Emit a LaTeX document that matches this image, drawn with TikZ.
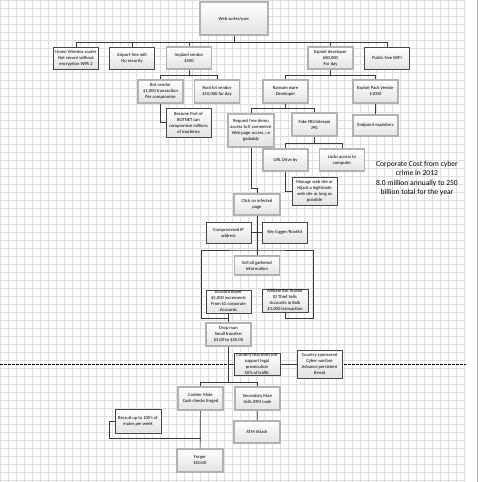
\documentclass[tikz,border=0pt]{standalone}
\usepackage{fontspec}
\setmainfont{Carlito}
\usetikzlibrary{positioning}

\begin{document}
\begin{tikzpicture}[x=1pt, y=-1pt,
    box/.style={rectangle, top color=white, bottom color=gray!22, align=center, inner sep=0.5pt, minimum width=45pt, minimum height=22pt, font=\fontsize{4.6}{6}\selectfont},
    thin box/.style={box, draw=gray!55!black, line width=0.5pt},
    thick box/.style={box, draw=gray!60, line width=1.5pt},
    link/.style={draw=gray!45!black, line width=0.7pt},
    gridline/.style={gray!25, line width=0.3pt}
]
        \useasboundingbox (0,0) rectangle (480,482);

        % grid paper
        \foreach \gx in {0,8,...,464} \draw[gridline] (\gx,0) -- (\gx,482);
        \foreach \gy in {0,8,...,480} \draw[gridline] (0,\gy) -- (466,\gy);
        \draw[gray!60, line width=0.8pt] (477.5,0) -- (477.5,482);
        \draw[black, line width=0.6pt, dash pattern=on 2.5pt off 1.5pt] (0,364) -- (466,364);

        % top
        \node[thick box, minimum width=68pt, minimum height=33pt] (web) at (234,18.5) {Web surfer/user};
        \node[thin box] (home) at (76,58) {Home Wireless router\\Not secure without\\encryption WPA 2};
        \node[thin box] (airport) at (132,58) {Airport free wifi\\No security};
        \node[thick box] (implant) at (189,58) {Implant vendor\\\$500};
        \node[thick box] (exploitdev) at (330.5,58) {Exploit developer\\\$80,000\\For day};
        \node[thin box] (public) at (387,58) {Public free WIFI};

        % vendors
        \node[thick box, minimum height=23pt] (botvendor) at (160.5,91.5) {Bot vendor\\\$1,000 transaction\\Per compromise};
        \node[thick box, minimum height=23pt] (rootkit) at (217,91.5) {Root kit vendor\\\$10,000 for day};
        \node[thick box, minimum height=23pt] (ransom) at (285.5,91.5) {Ransom ware\\Developer};
        \node[thick box, minimum height=23pt] (packvendor) at (375.5,91.5) {Exploit Pack Vendor\\\$1000};
        \node[thin box, minimum height=29pt] (botnet) at (188.5,122.5) {Become Part of\\BOTNET can\\compromise millions\\of machines};
        \node[thick box, minimum height=21pt] (endpoint) at (375.5,125.5) {Endpoint exploiters};

        % ransom ware branch
        \node[thick box, minimum width=46pt, minimum height=33pt] (request) at (251,130.5) {Request free demo\\access to E commerce\\Web page access, i.e\\godaddy};
        \node[thick box, minimum height=23pt] (fakefbi) at (314.5,124.5) {Fake FBI/Interpol\\JPG};
        \node[thick box] (urldrive) at (285.5,160) {URL Drive by};
        \node[thick box] (locks) at (342,160) {Locks access to\\computer};
        \node[thin box, minimum height=28pt] (manage) at (314.5,191) {Manage web site or\\Hijack a legitimate\\web site as long as\\possible};
        \node[thick box, minimum width=46pt, minimum height=21pt] (click) at (257,204.5) {Click on infected\\page};

        \node[align=center, font=\fontsize{7.6}{9.2}\selectfont] (cost) at (417,178.5) {Corporate Cost from cyber\\crime in 2012\\8.0 million annually to 250\\billion total for the year};

        % gathered information
        \node[thin box, minimum height=21pt] (compip) at (228.5,232.5) {Compromised IP\\address};
        \node[thin box, minimum height=21pt] (keylogger) at (285,232.5) {Key logger/Rootkit};
        \node[thick box, minimum height=19pt] (sellinfo) at (257,265.5) {Sell all gathered\\Information};
        \node[thin box, minimum height=23pt] (accbuyer) at (228.5,301.5) {Account Buyer\\\$5,000 increments\\From LG corporate\\Accounts};
        \node[thin box, minimum width=46pt, minimum height=21pt] (affiliate) at (285,300.5) {Affiliate Bot master\\ID Thief Sells\\Accounts in Bulk\\\$1,000 transaction};
        \node[thick box, minimum height=23pt] (dropman) at (228.5,334.5) {Drop man\\Small transfers\\\$3.00 to \$50.00};

        % below the line
        \node[thin box, minimum width=46pt] (countryno) at (257,364) {Country that does not\\support legal\\prosecution\\50\% of traffic};
        \node[thin box, minimum height=28pt] (countrysp) at (319.5,364) {Country sponsored\\Cyber warfare\\Advance persistent\\threat};
        \node[thick box, minimum height=23pt] (cashier) at (200.5,398.5) {Cashier Mule\\Cash checks forged};
        \node[thick box, minimum height=23pt] (secondary) at (257.5,398.5) {Secondary Man\\Sells ATM code};
        \node[thin box, minimum width=46pt, minimum height=24pt] (recruit) at (138,421) {Recruit up to 100's of\\mules per week};
        \node[thick box, minimum width=46pt] (atm) at (257,432) {ATM Attack};
        \node[thick box, minimum width=46pt, minimum height=23pt] (forger) at (200,460.5) {Forger\\\$50.00};

        \coordinate (split) at (257,250);
        \coordinate (frameL) at (201,318);
        \coordinate (frameR) at (313,318);
        \coordinate (loopL) at (109,438);

        % connectors
        \foreach \n in {home,airport,implant,exploitdev,public}
            \draw[link] (web.south) -- ++(0,7) -| (\n.north);
        \foreach \n in {botvendor,rootkit}
            \draw[link] (implant.south) -- ++(0,6) -| (\n.north);
        \foreach \n in {ransom,packvendor}
            \draw[link] (exploitdev.south) -- ++(0,6) -| (\n.north);
        \foreach \n in {request,fakefbi}
            \draw[link] (ransom.south) -- ++(0,5) -| (\n.north);
        \foreach \n in {urldrive,locks}
            \draw[link] (fakefbi.south) -- ++(0,7) -| (\n.north);
        \draw[link] (botvendor.south) |- (botnet.west);
        \draw[link] (packvendor) -- (endpoint);
        \draw[link] (urldrive.south) |- (manage.west);
        \draw[link] (request.south) -- ++(0,41) -| (click.north);
        \draw[link] (click) -- (sellinfo);
        \draw[link] (compip) -- (keylogger);
        \draw[link] (accbuyer.south |- frameL) -- (frameL) |- (split) -| (frameR) -- (affiliate.south |- frameR) -- (affiliate.south);
        \draw[link] (accbuyer) -- (dropman);
        \foreach \n in {cashier,secondary}
            \draw[link] (dropman.south) -- ++(0,36) -| (\n.north);
        \draw[link] (dropman.south |- countryno.west) -- (countryno.west);
        \draw[link] (countryno) -- (countrysp);
        \draw[link] (secondary) -- (atm);
        \draw[link] (cashier) -- (forger);
        \draw[link] (cashier.south |- loopL) -- (loopL) |- (recruit.west);
    \end{tikzpicture}
\end{document}
